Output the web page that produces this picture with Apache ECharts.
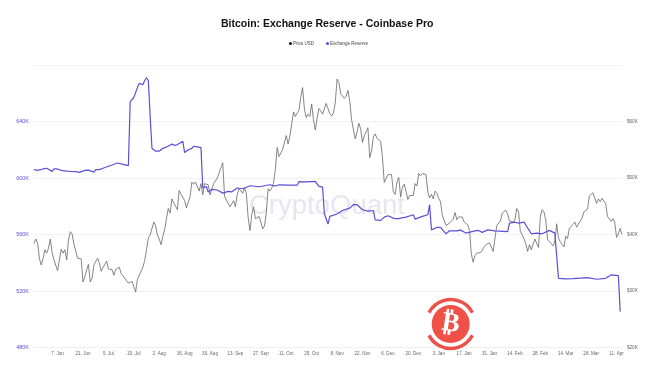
<!DOCTYPE html>
<html><head><meta charset="utf-8">
<style>html,body{margin:0;padding:0;background:#fff}#c{width:645px;height:365px}</style>
<script src="https://cdn.jsdelivr.net/npm/echarts@6/dist/echarts.min.js"></script>
</head><body><div id="c"></div>
<script>
const titleText = 'Bitcoin: Exchange Reserve - Coinbase Pro';
const tickLabels = ['7. Jun','21. Jun','5. Jul','19. Jul','2. Aug','16. Aug','30. Aug','13. Sep','27. Sep','11. Oct','25. Oct','8. Nov','22. Nov','6. Dec','20. Dec','3. Jan','17. Jan','31. Jan','14. Feb','28. Feb','14. Mar','28. Mar','11. Apr'];
const firstTick = 13, tickStep = 14;
// daily BTC price in USD thousands, 25 May 2021 onward
const priceUsd = [38.4,39.2,38.5,35.7,34.6,35.7,37.3,
36.7,37.6,39.2,36.8,35.5,35.8,33.6,33.4,37.4,36.7,37.3,35.5,39.0,40.5,40.1,38.3,38.0,35.8,35.6,35.7,31.6,32.5,33.7,34.7,31.6,32.2,34.6,34.4,35.8,35.0,
33.5,33.8,34.7,35.3,33.9,34.2,33.8,32.8,33.8,33.5,34.2,33.1,32.7,32.8,31.8,31.4,31.5,31.7,30.8,29.8,32.1,32.3,33.5,34.2,35.4,37.3,39.4,39.9,40.0,42.2,41.6,
39.9,39.2,38.2,39.7,40.9,42.8,44.6,43.8,46.3,45.6,45.6,44.4,47.8,47.1,47.0,46.0,44.7,44.8,46.7,49.3,48.9,49.3,49.5,47.7,49.0,47.0,49.0,49.0,48.8,47.0,47.2,
49.0,49.3,50.0,49.9,51.8,52.7,46.8,46.1,46.4,44.9,45.2,46.0,44.9,47.1,48.1,47.8,47.3,48.3,47.3,43.0,40.7,43.6,44.9,42.8,42.7,43.2,42.2,41.0,41.5,43.8,
48.1,47.7,48.2,49.1,51.5,55.4,53.8,53.9,55.0,54.7,57.5,56.0,57.4,57.4,61.7,60.9,61.5,62.0,64.3,66.0,62.2,60.7,61.3,60.9,63.1,60.3,58.5,60.6,62.3,61.9,61.3,
61.0,63.2,62.9,61.4,61.0,61.5,63.3,67.5,66.9,64.9,64.9,64.1,64.5,65.5,63.6,60.3,60.4,56.9,58.1,59.7,58.7,56.3,57.5,57.2,58.9,53.6,54.8,57.3,57.8,57.0,
57.2,56.5,53.7,49.2,49.4,50.6,50.5,50.6,47.6,47.1,49.3,50.1,46.7,48.4,48.9,47.6,46.2,46.9,46.9,46.9,49.0,48.6,50.8,50.4,50.8,50.7,50.6,47.5,46.5,47.1,46.3,
47.7,47.3,46.4,45.8,43.4,43.1,41.6,41.9,42.0,41.8,42.7,43.9,42.6,43.1,43.2,43.1,42.2,42.4,41.7,40.7,36.5,35.1,36.3,36.7,37.0,36.8,37.2,37.8,38.2,37.9,38.5,
38.7,37.0,37.3,41.6,41.4,42.4,43.8,44.1,44.3,43.6,42.4,42.2,42.2,42.6,44.6,44.0,40.5,40.0,40.1,38.4,37.0,38.2,37.3,38.3,39.2,39.1,37.7,43.2,
44.4,44.0,42.5,39.1,39.4,38.4,38.0,38.7,41.9,39.4,38.7,38.8,37.8,39.7,39.3,41.1,41.0,41.8,42.2,41.3,41.0,42.4,42.9,44.0,44.3,44.5,46.8,47.1,47.4,47.1,45.5,
46.3,45.8,46.4,46.6,45.5,43.2,43.4,42.3,42.8,42.2,39.5,40.1,41.1,40.0];
// reserve readings in BTC thousands: day index since 25 May 2021, and value
const reserveDays = [0,2,3,5,7,8,10,11,13,15,16,18,20,21,23,25,26,28,30,31,33,34,36,38,39,41,43,44,46,47,49,50,52,
53,55,57,58,60,61,62,63,64,65,67,69,71,72,74,76,78,80,82,83,85,87,88,90,92,93,94,95,96,98,99,101,104,107,109,112,115,119,124,130,133,135,140,145,146,150,155,157,159,160,162,163,167,170,174,176,178,181,184,187,188,191,193,195,198,200,205,209,210,214,
217,218,219,222,224,227,229,233,235,238,243,245,247,250,254,255,261,262,265,267,270,274,277,280,284,287,288,289,293,297,301,305,310,315,318,322,323];
const reserveValues = [605.9,605.4,606.4,606.4,606.9,605.9,604.7,606.4,606.4,605.4,604.7,604.9,604.7,605.4,604.5,604,603.5,605.4,605.6,604.7,604.2,605.9,605.9,606.9,607.3,608.3,609.2,610.1,610.6,611.1,609.7,609.2,608.8,
654,657,664,667,666,669,671,669,643.7,621,619,619,621,621.5,622.5,624,623,624.5,626,618,620,621,622.5,622,621.5,593,593.5,594,590,592,592.4,591.5,589.3,590.5,590.2,592.9,592.4,594.5,593.8,595.2,594.3,595.2,595,594.9,597.4,597.2,597.6,594.1,593.6,574.7,567.4,572.8,574.5,577,578.7,581.1,581.1,577.5,576.6,577,570.4,570,572.3,573.3,571.6,571.1,572.3,574,570.9,572.8,
574,581.1,563.3,565,565,560.5,562.6,562.6,563.1,561,562.6,562.9,561.5,563.3,562.6,561.5,562.1,568,568.8,568,568.8,560.5,561,560.5,562.9,561,561,529,528.6,528.8,529.1,529.5,528.3,529,531.4,530.9,505.4];
const leftTicks = {min:480, max:680, step:40};
const rightTicks = {min:20, max:70, step:10};

const startMs = Date.UTC(2021,4,25);
const categories = priceUsd.map((_,i)=>new Date(startMs+i*864e5).toISOString().slice(0,10));
const reserveSeries = priceUsd.map(()=>null);
reserveDays.forEach((d,i)=>{reserveSeries[d]=reserveValues[i];});
const font='"Liberation Sans",Arial,sans-serif';
const chart = echarts.init(document.getElementById('c'),null,{renderer:'canvas'});
chart.setOption({
  animation:false,
  backgroundColor:'#fff',
  title:{text:titleText,left:216,top:14,textStyle:{fontFamily:font,fontSize:10.5,fontWeight:'bold',color:'#111'}},
  legend:{top:36,left:284,icon:'circle',itemWidth:3,itemHeight:3,itemGap:12,
    textStyle:{fontFamily:font,fontSize:4.5,color:'#444',padding:[0,0,0,-4]},
    data:[{name:'Price USD',itemStyle:{color:'#111'}},{name:'Exchange Reserve',itemStyle:{color:'#5a50d8'}}]},
  grid:{left:34,right:23,top:65,bottom:17.5},
  xAxis:{type:'category',data:categories,boundaryGap:false,
    axisLine:{lineStyle:{color:'#efeff2',width:1}},axisTick:{show:false},splitLine:{show:false},
    axisLabel:{fontFamily:font,fontSize:4.6,color:'#666',margin:4,hideOverlap:false,
      interval:(i)=>i>=firstTick&&(i-firstTick)%tickStep===0,
      formatter:(v,i)=>tickLabels[(i-firstTick)/tickStep]||''}},
  yAxis:[
    {type:'value',min:leftTicks.min,max:leftTicks.max,interval:leftTicks.step,
     axisLine:{show:false},axisTick:{show:false},
     splitLine:{lineStyle:{color:'#f2f2f4',width:1}},
     axisLabel:{fontFamily:font,fontSize:5.5,color:'#5a50d8',margin:5,
       formatter:(v)=>v===680?'':v+'K'}},
    {type:'value',min:rightTicks.min,max:rightTicks.max,interval:rightTicks.step,
     axisLine:{show:false},axisTick:{show:false},splitLine:{show:false},
     axisLabel:{fontFamily:font,fontSize:4.6,color:'#666',margin:5,
       formatter:(v)=>v===70?'':'$'+v+'K'}}
  ],
  graphic:[
    {type:'text',z:0,left:249,top:192,style:{text:'CryptoQuant',font:'27.5px '+font,fill:'#e6e6ee'}},
    {type:'group',z:100,x:450.7,y:324,children:[
      {type:'arc',z:100,shape:{cx:0,cy:0,r:24.5,startAngle:-2.66,endAngle:-0.48},style:{stroke:'#ef5048',lineWidth:3.5,fill:null}},
      {type:'arc',z:100,shape:{cx:0,cy:0,r:24.5,startAngle:0.48,endAngle:2.66},style:{stroke:'#ef5048',lineWidth:3.5,fill:null}},
      {type:'circle',z:100,shape:{cx:0,cy:0,r:19},style:{fill:'#ef5048'}},
      {type:'text',z:101,x:0,y:0,rotation:-0.15,style:{text:'\u20BF',font:'bold 27px "DejaVu Sans"',fill:'#fff',align:'center',verticalAlign:'middle'}}
    ]}
  ],
  series:[
    {name:'Price USD',type:'line',yAxisIndex:1,data:priceUsd,showSymbol:false,symbol:'none',
     lineStyle:{color:'#666',width:0.8},itemStyle:{color:'#111'}},
    {name:'Exchange Reserve',type:'line',yAxisIndex:0,data:reserveSeries,connectNulls:true,showSymbol:false,symbol:'none',
     lineStyle:{color:'#5a50d8',width:1.2},itemStyle:{color:'#5a50d8'}}
  ]
});
</script></body></html>
